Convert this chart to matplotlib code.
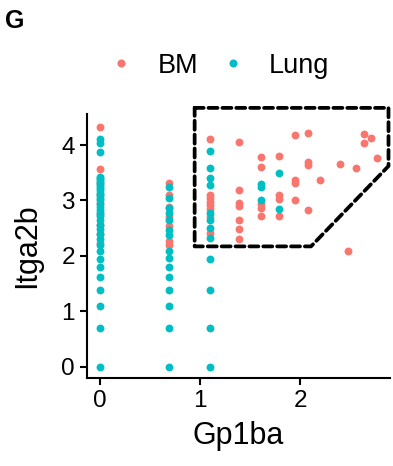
"""Gp1ba vs Itga2b scatter (panel G), BM vs Lung cells with a dashed gate."""
import matplotlib

matplotlib.use("Agg")
import matplotlib.pyplot as plt  # noqa: E402
from matplotlib.lines import Line2D  # noqa: E402
from matplotlib.patches import Polygon  # noqa: E402

plt.rcParams["font.family"] = ["Liberation Sans", "DejaVu Sans"]

GROUPS = ["BM", "Lung"]
COLORS = {"BM": "#F8766D", "Lung": "#00BFC4"}

# BM cells (Gp1ba, Itga2b), read column by column
bm_x = [0] * 9 + [0.69] * 7 + [1.10] * 8 + [1.39] * 7 + [1.61] * 5 + [1.79] * 4 + [1.95] * 4 \
    + [2.08] * 4 + [2.20, 2.40, 2.48, 2.56, 2.64, 2.64, 2.71, 2.77]
bm_y = [4.32, 3.56, 3.32, 3.10, 2.95, 2.75, 2.55, 2.40, 2.23,
        3.32, 3.10, 2.89, 2.70, 2.53, 2.26, 2.20,
        4.11, 3.10, 3.04, 2.97, 2.91, 2.85, 2.70, 2.41,
        4.06, 3.18, 2.96, 2.90, 2.65, 2.49, 2.30,
        3.79, 3.61, 2.93, 2.87, 2.71,
        3.81, 3.09, 3.02, 2.71,
        4.18, 3.37, 3.32, 3.00,
        4.21, 3.69, 3.64, 2.83,
        3.37, 3.66, 2.08, 3.58, 4.19, 4.04, 4.13, 3.76]

# Lung cells
lung_y0 = [0, 0.69, 1.10, 1.39, 1.61, 1.79, 1.95, 2.08, 2.20, 2.30, 2.40, 2.48,
           2.56, 2.64, 2.71, 2.77, 2.83, 2.89, 2.94, 3.00, 3.04, 3.09, 3.14,
           3.18, 3.22, 3.26, 3.30, 3.33, 3.37, 3.40, 3.43, 3.87, 4.04, 4.11]
lung_y1 = [3.25, 3.04, 2.86, 2.77, 2.65, 2.47, 2.38, 2.08, 1.96, 1.79, 1.61,
           1.39, 1.10, 0.69, 0]
lung_y2 = [3.89, 3.58, 3.40, 3.27, 2.78, 2.65, 2.50, 2.33, 1.95, 1.39, 0.69, 0]
lung_x = [0] * len(lung_y0) + [0.69] * len(lung_y1) + [1.10] * len(lung_y2) \
    + [1.61, 1.61, 1.61, 1.79, 1.79]
lung_y = lung_y0 + lung_y1 + lung_y2 + [3.30, 3.25, 3.00, 3.50, 2.84]

X_TICKS = [0, 1, 2]
Y_TICKS = [0, 1, 2, 3, 4]

# hand-drawn gate around the double-positive cells (data units)
gate_x = [0.945, 2.886, 2.886, 2.11, 0.945]
gate_y = [4.67, 4.67, 3.62, 2.17, 2.17]

fig = plt.figure(figsize=(3.93, 4.66), dpi=100)
ax = fig.add_axes([0.2221, 0.1895, 0.770, 0.5659])

ax.scatter(bm_x, bm_y, s=32, color=COLORS["BM"], linewidths=0, zorder=2)
ax.scatter(lung_x, lung_y, s=32, color=COLORS["Lung"], linewidths=0, zorder=3)

gate = Polygon(list(zip(gate_x, gate_y)), closed=True, fill=False, edgecolor="black",
               linewidth=2.7, linestyle=(0, (2.4, 1.3)), joinstyle="round",
               capstyle="round", clip_on=False, zorder=4)
ax.add_patch(gate)

ax.set_xlim(-0.13, 2.90)
ax.set_ylim(-0.2, 4.56)
ax.set_xticks(X_TICKS)
ax.set_yticks(Y_TICKS)
for side in ["top", "right"]:
    ax.spines[side].set_visible(False)
for side in ["left", "bottom"]:
    ax.spines[side].set_linewidth(1.5)
ax.tick_params(axis="both", length=5, width=1.5, labelsize=17.5, pad=4, colors="black")

ax.set_xlabel("Gp1ba", fontsize=22)
ax.set_ylabel("Itga2b", fontsize=22)
ax.xaxis.set_label_coords(0.5, -0.165)
ax.yaxis.set_label_coords(-0.15, 0.5)

handles = [Line2D([], [], marker="o", linestyle="", markersize=5.8,
                  markerfacecolor=COLORS[g], markeredgewidth=0, label=g) for g in GROUPS]
fig.legend(handles=handles, loc="center", bbox_to_anchor=(0.56, 0.859), ncol=2,
           frameon=False, fontsize=19.5, handlelength=0.8, handletextpad=0.93,
           columnspacing=0.9, borderpad=0)

fig.text(0.013, 0.955, "G", fontsize=18, fontweight="bold", va="center", ha="left")

fig.savefig("out.png", dpi=100)
